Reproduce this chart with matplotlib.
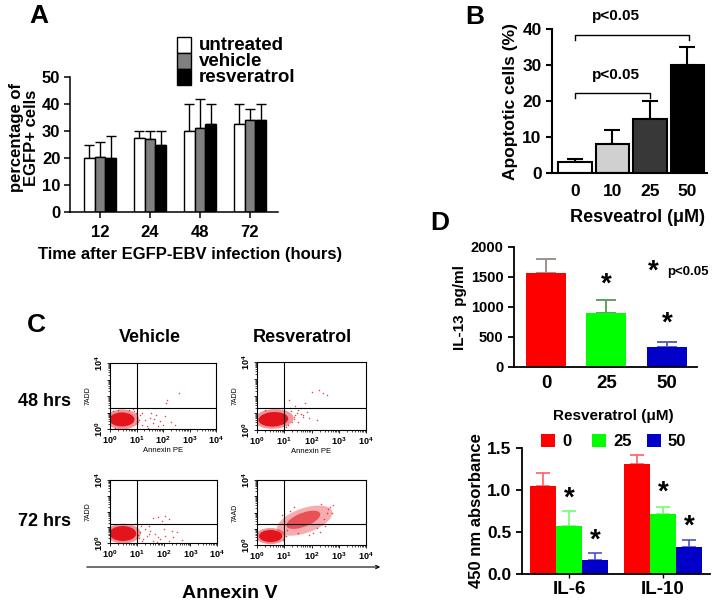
import numpy as np
import matplotlib
matplotlib.use("Agg")
import matplotlib.pyplot as plt
from matplotlib.patches import Ellipse, Rectangle, FancyArrowPatch

plt.rcParams['font.family'] = ['Liberation Sans', 'DejaVu Sans']
plt.rcParams['font.weight'] = 'bold'
plt.rcParams['axes.labelweight'] = 'bold'
plt.rcParams['mathtext.fontset'] = 'custom'
plt.rcParams['mathtext.rm'] = 'Liberation Sans'

# ---- panel A data ----
a_times = ['12', '24', '48', '72']
a_series = ['untreated', 'vehicle', 'resveratrol']
a_untreated = [20, 27.5, 30, 32.5]
a_vehicle = [20.5, 27, 31, 34]
a_resv = [20, 25, 32.5, 34]
a_untreated_err = [5, 2.5, 10, 7.5]
a_vehicle_err = [5.5, 3, 11, 4]
a_resv_err = [8, 5, 7.5, 6]
a_colors = ['white', '#808080', 'black']

# ---- panel B data ----
b_doses = ['0', '10', '25', '50']
b_apoptotic = [3, 8, 15, 30]
b_err = [1, 4, 5, 5]
b_colors = ['white', '#d0d0d0', '#383838', 'black']

# ---- panel D data ----
d13_doses = ['0', '25', '50']
d13_il13 = [1570, 900, 330]
d13_err = [230, 210, 90]
d13_star = [None, 1370, 730]

d_cytokines = ['IL-6', 'IL-10']
d_doses = ['0', '25', '50']
d_abs_0 = [1.05, 1.31]
d_abs_25 = [0.57, 0.72]
d_abs_50 = [0.17, 0.32]
d_err_0 = [0.15, 0.11]
d_err_25 = [0.18, 0.08]
d_err_50 = [0.08, 0.08]
d_star_25 = [0.9, 0.97]
d_star_50 = [0.4, 0.56]
d_colors = ['#ff0000', '#00ff00', '#0000c8']
d_err_colors_top = ['#a09090', '#60a060', '#6060b0']
d_err_colors_bot = ['#ff6060', '#70ff70', '#5050d0']

# ---- panel C data (log10 decades) ----
# dense populations: (cx, cy, width, height, angle, alpha)
c_tl_cores = [(0.47, 0.58, 1.25, 1.2, 0, 0.45), (0.45, 0.58, 0.95, 0.85, 0, 1.0)]
c_tl_x = [1.12, 1.31, 1.5, 1.19, 1.62, 1.87, 1.81, 2.06, 2.0, 2.15, 2.1, 2.62, 1.44, 2.44, 1.75, 1.56,
          1.05, 1.2, 1.38, 0.98, 1.02, 0.9, 0.1, 0.3, 0.7, 1.08, 0.85, 0.2, 1.65, 2.3]
c_tl_y = [0.86, 0.56, 0.66, 0.26, 0.36, 0.46, 0.16, 0.76, 0.26, 1.76, 1.56, 2.2, 0.06, 0.26, 0.86, 0.96,
          0.4, 1.0, 0.2, 0.95, 0.3, 1.12, 1.1, 1.18, 1.15, 0.55, 1.2, 0.06, 0.6, 0.45]
c_tl_gate = 1.3

c_tr_cores = [(0.62, 0.65, 1.45, 1.15, 10, 0.45), (0.6, 0.63, 1.1, 0.85, 10, 1.0)]
c_tr_x = [1.4, 1.6, 1.83, 2.0, 2.26, 2.44, 2.56, 1.16, 2.2, 1.9, 1.7, 1.52, 1.34, 1.77, 1.25, 1.45,
          1.3, 1.62, 1.15, 1.35, 1.5, 1.2, 0.3, 0.9, 1.05, 1.4, 1.68]
c_tr_y = [0.88, 1.27, 1.08, 2.25, 2.35, 2.16, 2.06, 1.76, 0.6, 0.7, 0.78, 0.5, 0.78, 1.57, 1.1, 1.0,
          0.45, 0.95, 0.3, 0.62, 1.2, 1.3, 1.2, 1.3, 0.2, 1.4, 0.9]
c_tr_gate = 1.3

c_bl_cores = [(0.5, 0.6, 1.3, 1.25, 0, 0.45), (0.48, 0.6, 1.0, 0.95, 0, 1.0)]
c_bl_x = [1.12, 1.37, 1.5, 1.25, 1.69, 1.87, 2.06, 2.19, 2.37, 1.62, 1.81, 2.06, 2.19, 1.94, 1.75, 2.5,
          1.44, 2.0, 1.1, 1.3, 1.6, 2.3, 1.15, 1.05, 1.2, 1.45, 1.8, 0.95, 2.7]
c_bl_y = [0.67, 0.46, 0.77, 0.25, 0.56, 0.25, 0.46, 0.15, 0.35, 1.6, 1.67, 1.71, 1.5, 1.4, 0.04, 0.67,
          1.08, 0.88, 0.3, 0.9, 0.15, 0.75, 1.05, 0.5, 0.1, 0.6, 0.4, 1.2, 0.2]
c_bl_gate = 1.22

c_br_cores = [(1.75, 1.5, 2.4, 1.35, 40, 0.35), (1.7, 1.55, 1.5, 0.75, 40, 0.6),
              (0.5, 0.55, 1.1, 1.0, 0, 0.45), (0.5, 0.55, 0.85, 0.75, 0, 1.0)]
c_br_x = [0.91, 1.34, 2.68, 2.56, 2.32, 2.07, 0.73, 1.05, 1.2, 2.45, 2.2, 1.0, 2.6, 1.5, 2.75,
          0.95, 2.8, 2.5, 1.1, 1.9, 2.35]
c_br_y = [1.84, 2.35, 2.35, 1.94, 0.82, 0.71, 0.61, 0.55, 2.1, 1.6, 1.05, 1.5, 2.2, 0.75, 2.0,
          0.3, 2.45, 1.2, 0.9, 0.6, 2.5]
c_br_gate = 1.32

flow_red = '#e4141c'

W, H = 718, 605
fig = plt.figure(figsize=(W / 100, H / 100), dpi=100)


def px_axes(l, t, r, b):
    return fig.add_axes([l / W, 1 - b / H, (r - l) / W, (b - t) / H])


def ftext(x, y, s, **kw):
    kw.setdefault('ha', 'center')
    kw.setdefault('va', 'center')
    fig.text(x / W, 1 - y / H, s, **kw)


def clean(ax, lw):
    for s in ['top', 'right']:
        ax.spines[s].set_visible(False)
    for s in ['left', 'bottom']:
        ax.spines[s].set_linewidth(lw)


# ================= Panel A =================
axA = px_axes(70, 77, 278, 212)
xa = np.arange(len(a_times))
bw = 0.215
a_vals = [a_untreated, a_vehicle, a_resv]
a_errs = [a_untreated_err, a_vehicle_err, a_resv_err]
for i in range(3):
    pos = xa + (i - 1) * bw
    axA.bar(pos, a_vals[i], bw, color=a_colors[i], edgecolor='black', lw=1.0, zorder=2)
    axA.errorbar(pos, a_vals[i], yerr=[[0] * 4, a_errs[i]], fmt='none', ecolor='black',
                 elinewidth=1.0, capsize=3.5, capthick=1.0, zorder=1)
axA.set_xlim(-0.6, 3.56)
axA.set_ylim(0, 50)
axA.set_yticks(range(0, 51, 10))
axA.set_xticks(xa)
axA.set_xticklabels(a_times)
axA.tick_params(labelsize=12, width=1.1, length=4, pad=3)
axA.tick_params(axis='x', pad=5)
clean(axA, 1.1)

ftext(39, 16, 'A', fontsize=19)
for i, name in enumerate(a_series):
    fig.add_artist(Rectangle((177 / W, 1 - (53 + 16 * i) / H), 14 / W, 16 / H,
                             transform=fig.transFigure, facecolor=a_colors[i],
                             edgecolor='black', lw=1.0))
    ftext(199, 45 + 16 * i, name, ha='left', fontsize=13.5)
ftext(24, 138, 'percentage of\nEGFP+ cells', rotation=90, fontsize=12, linespacing=1.0)
ftext(190, 255, 'Time after EGFP-EBV infection (hours)', fontsize=12)

# ================= Panel B =================
axB = px_axes(552, 29, 707, 173)
xb = np.arange(len(b_doses))
axB.bar(xb, b_apoptotic, 0.9, color=b_colors, edgecolor='black', lw=1.5, zorder=2)
axB.errorbar(xb, b_apoptotic, yerr=[[0] * 4, b_err], fmt='none', ecolor='black',
             elinewidth=1.5, capsize=6, capthick=1.5, zorder=1)
axB.set_xlim(-0.613, 3.52)
axB.set_ylim(0, 40)
axB.set_yticks(range(0, 41, 10))
axB.set_xticks(xb)
axB.set_xticklabels(b_doses)
axB.tick_params(labelsize=12.5, width=1.5, length=4)
axB.tick_params(axis='x', length=0, pad=8)
clean(axB, 1.5)
for (x0, x1, yb, yt) in [(0, 3.05, 38.3, 43.5), (0, 2.0, 22.2, 27.2)]:
    axB.plot([x0, x0, x1, x1], [yb - 1.4, yb, yb, yb - 1.4], color='black', lw=1.0, clip_on=False)
    axB.text(1.1, yt, 'p<0.05', ha='center', va='center', fontsize=11)
axB.set_ylabel('Apoptotic cells (%)', fontsize=12.5, labelpad=3)
ftext(475, 17, 'B', fontsize=19)
ftext(637, 218, 'Resveatrol (\u03bcM)', fontsize=13)

# ================= Panel D top =================
axD1 = px_axes(514, 247, 697, 367)
xd = np.arange(len(d13_doses))
axD1.bar(xd, d13_il13, 0.66, color=d_colors, zorder=2)
for i in range(3):
    axD1.errorbar(xd[i], d13_il13[i], yerr=[[0], [d13_err[i]]], fmt='none',
                  ecolor=d_err_colors_top[i], elinewidth=1.4, capsize=7, capthick=1.4, zorder=1)
    if d13_star[i] is not None:
        axD1.text(xd[i], d13_star[i], '*', ha='center', va='center', fontsize=20)
axD1.set_xlim(-0.53, 2.5)
axD1.set_ylim(0, 2000)
axD1.set_yticks(range(0, 2001, 500))
axD1.set_xticks(xd)
axD1.set_xticklabels(d13_doses)
axD1.tick_params(axis='y', labelsize=10.5, width=1.3, length=4)
axD1.tick_params(axis='x', labelsize=13.5, length=0, pad=6)
clean(axD1, 1.3)
axD1.set_ylabel('IL-13  pg/ml', fontsize=11, labelpad=3)
ftext(440, 223, 'D', fontsize=19)
ftext(653, 272, '*', fontsize=20)
ftext(667, 272, 'p<0.05', ha='left', fontsize=9.5)
ftext(613, 416, 'Resveratrol (\u03bcM)', fontsize=11)

# ================= Panel D bottom =================
axD2 = px_axes(522, 448, 710, 574)
xc = np.arange(len(d_cytokines))
bw2 = 0.277
d_vals = [d_abs_0, d_abs_25, d_abs_50]
d_errs = [d_err_0, d_err_25, d_err_50]
for i in range(3):
    pos = xc + (i - 1) * bw2
    axD2.bar(pos, d_vals[i], bw2, color=d_colors[i], zorder=2)
    axD2.errorbar(pos, d_vals[i], yerr=[[0, 0], d_errs[i]], fmt='none',
                  ecolor=d_err_colors_bot[i], elinewidth=1.2, capsize=5, capthick=1.2, zorder=1)
for j in range(2):
    axD2.text(xc[j], d_star_25[j], '*', ha='center', va='center', fontsize=20)
    axD2.text(xc[j] + bw2, d_star_50[j], '*', ha='center', va='center', fontsize=20)
axD2.set_xlim(-0.5, 1.5)
axD2.set_ylim(0, 1.5)
axD2.set_yticks([0, 0.5, 1.0, 1.5])
axD2.set_yticklabels(['0.0', '0.5', '1.0', '1.5'])
axD2.set_xticks(xc)
axD2.set_xticklabels(d_cytokines)
axD2.tick_params(axis='y', labelsize=12.5, width=1.3, length=4)
axD2.tick_params(axis='x', labelsize=13.5, width=1.0, length=3, pad=2)
clean(axD2, 1.3)
axD2.set_ylabel('450 nm absorbance', fontsize=12, labelpad=2)
leg_x = [541, 592, 647]
for i, lab in enumerate(d_doses):
    fig.add_artist(Rectangle((leg_x[i] / W, 1 - 447 / H), 14 / W, 13 / H,
                             transform=fig.transFigure, facecolor=d_colors[i], lw=0))
    ftext(leg_x[i] + 21, 441, lab, ha='left', fontsize=12)

# ================= Panel C =================
ftext(36, 325, 'C', fontsize=19)
ftext(150, 338, 'Vehicle', fontsize=13)
ftext(302, 338, 'Resveratrol', fontsize=13)
ftext(45, 401, '48 hrs', fontsize=13)
ftext(44, 522, '72 hrs', fontsize=13)

minor = [d + np.log10(m) for d in range(4) for m in range(2, 10)]


def flow_plot(rect, cores, xs, ys, gate, ylab, xlab):
    ax = px_axes(*rect)
    for (cx, cy, w, h, ang, al) in cores:
        ax.add_patch(Ellipse((cx, cy), w, h, angle=ang, facecolor=flow_red, alpha=al, lw=0))
    ax.scatter(xs, ys, s=1.2, color=flow_red, alpha=0.8, lw=0)
    ax.axvline(1, color='black', lw=0.8)
    ax.axhline(gate, color='black', lw=0.8)
    ax.set_xlim(0, 4)
    ax.set_ylim(0, 4)
    ax.set_xticks(range(5))
    ax.set_xticklabels(['$10^%d$' % i for i in range(5)])
    ax.set_yticks(range(5))
    ax.set_yticklabels(['$10^0$', '', '', '', '$10^4$'], rotation=90, va='center')
    ax.set_xticks(minor, minor=True)
    ax.set_yticks(minor, minor=True)
    ax.tick_params(labelsize=6.5, length=2.5, width=0.6, pad=1)
    ax.tick_params(which='minor', length=1.2, width=0.5)
    for s in ax.spines.values():
        s.set_linewidth(0.8)
    ax.set_ylabel(ylab, fontsize=5, fontweight='normal', labelpad=1)
    if xlab:
        ax.set_xlabel(xlab, fontsize=5.5, fontweight='normal', labelpad=1)
    for t in ax.get_xticklabels() + ax.get_yticklabels():
        t.set_fontweight('normal')
    return ax


flow_plot((110, 363, 216, 429), c_tl_cores, c_tl_x, c_tl_y, c_tl_gate, '7ADD', 'Annexin PE')
flow_plot((257, 362, 366, 430), c_tr_cores, c_tr_x, c_tr_y, c_tr_gate, '7ADD', 'Annexin PE')
flow_plot((110, 480, 217, 543), c_bl_cores, c_bl_x, c_bl_y, c_bl_gate, '7ADD', None)
flow_plot((257, 480, 366, 545), c_br_cores, c_br_x, c_br_y, c_br_gate, '7AAD', None)

fig.add_artist(FancyArrowPatch((84 / W, 1 - 567 / H), (383 / W, 1 - 567 / H),
                               transform=fig.transFigure, arrowstyle='->',
                               mutation_scale=6, lw=0.8, color='black'))
ftext(230, 593, 'Annexin V', fontsize=14)

fig.savefig('out.png', dpi=100)
